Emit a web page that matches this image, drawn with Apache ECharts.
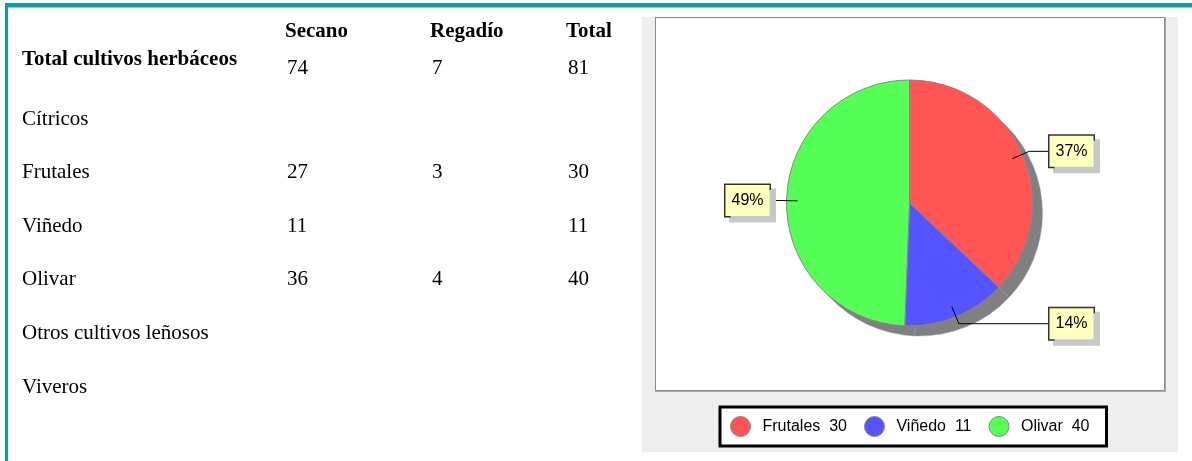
<!DOCTYPE html>
<html>
<head>
<meta charset="utf-8">
<script src="https://cdn.jsdelivr.net/npm/echarts@6/dist/echarts.min.js"></script>
<style>
html, body { margin: 0; padding: 0; background: #fff; }
#box { width: 1192px; height: 461px; }
</style>
</head>
<body>
<div id="box"></div>
<script>
// table data
const headers = ['Secano', 'Regadío', 'Total'];
const rowLabels = ['Total cultivos herbáceos', 'Cítricos', 'Frutales', 'Viñedo', 'Olivar', 'Otros cultivos leñosos', 'Viveros'];
const secano = [74, null, 27, 11, 36, null, null];
const regadio = [7, null, 3, null, 4, null, null];
const total = [81, null, 30, 11, 40, null, null];

// pie data
const pieNames = ['Frutales', 'Viñedo', 'Olivar'];
const pieValues = [30, 11, 40];
const pieColors = ['#ff5555', '#5555ff', '#55ff55'];

// layout
const CX = 909.5, CY = 203, R = 123;
const SERIF = '"Liberation Serif", "Times New Roman", serif';
const SANS = '"Liberation Sans", Arial, sans-serif';
const colX = [285, 430, 566];

function labelY(i) {
  return i === 0 ? 60 : 119 + (i - 1) * 53.6;
}
function valueY(i) {
  return i === 0 ? 68 : labelY(i);
}

var graphics = [
  { type: 'rect', shape: { x: 5, y: 3, width: 1187, height: 4.5 }, style: { fill: '#129d98' } },
  { type: 'rect', shape: { x: 5, y: 3, width: 3, height: 458 }, style: { fill: '#129d98' } },
  { type: 'rect', shape: { x: 642, y: 17, width: 536, height: 435 }, style: { fill: '#eeeeee' } },
  { type: 'rect', shape: { x: 655.5, y: 17.5, width: 509, height: 373 }, style: { fill: '#fff', stroke: '#888', lineWidth: 1 } },
  { type: 'line', shape: { x1: 1165.5, y1: 17, x2: 1165.5, y2: 392 }, style: { stroke: '#aaa', lineWidth: 1 } },
  { type: 'line', shape: { x1: 655, y1: 391.5, x2: 1166, y2: 391.5 }, style: { stroke: '#aaa', lineWidth: 1 } }
];

headers.forEach(function (h, j) {
  graphics.push({
    type: 'text',
    style: { text: h, x: colX[j], y: 32, font: 'bold 21px ' + SERIF, fill: '#000', textVerticalAlign: 'middle', verticalAlign: 'middle' }
  });
});

rowLabels.forEach(function (name, i) {
  graphics.push({
    type: 'text',
    style: { text: name, x: 22, y: labelY(i), font: (i === 0 ? 'bold ' : '') + '21px ' + SERIF, fill: '#000', textVerticalAlign: 'middle', verticalAlign: 'middle' }
  });
  [secano[i], regadio[i], total[i]].forEach(function (v, j) {
    if (v === null) return;
    graphics.push({
      type: 'text',
      style: { text: String(v), x: colX[j] + 2, y: valueY(i), font: '21px ' + SERIF, fill: '#000', textVerticalAlign: 'middle', verticalAlign: 'middle' }
    });
  });
});

// mid angle of each slice (clockwise from 12 o'clock)
const pieSum = pieValues.reduce(function (a, b) { return a + b; }, 0);
var midAngles = [];
var cum = 0;
pieValues.forEach(function (v) {
  midAngles.push((cum + v / 2) / pieSum * Math.PI * 2);
  cum += v;
});

var myChart = echarts.init(document.getElementById('box'));
let option = {
  animation: false,
  graphic: graphics,
  legend: {
    data: pieNames,
    left: 720,
    top: 407,
    orient: 'horizontal',
    icon: 'circle',
    itemWidth: 20,
    itemHeight: 20,
    itemGap: 17,
    padding: [9, 17, 9, 10],
    backgroundColor: '#fff',
    borderColor: '#000',
    borderWidth: 3,
    borderRadius: 0,
    itemStyle: { borderColor: '#888', borderWidth: 1 },
    textStyle: { fontFamily: SANS, fontSize: 16, color: '#000', padding: [0, 0, 0, 7] },
    formatter: function (name) {
      return name + '  ' + pieValues[pieNames.indexOf(name)];
    }
  },
  series: [
    {
      name: 'cultivos',
      type: 'pie',
      z: 3,
      center: [CX, CY],
      radius: R,
      startAngle: 90,
      clockwise: true,
      data: pieNames.map(function (n, i) {
        return { name: n, value: pieValues[i], itemStyle: { color: pieColors[i] } };
      }),
      itemStyle: { borderColor: '#888', borderWidth: 1 },
      emphasis: { disabled: true },
      label: { show: false },
      labelLine: { show: false }
    },
    {
      // transparent copy on top, only carries the labels and leader lines
      name: 'etiquetas',
      type: 'pie',
      z: 5,
      silent: true,
      center: [CX, CY],
      radius: R,
      startAngle: 90,
      clockwise: true,
      percentPrecision: 0,
      data: pieNames.map(function (n, i) {
        return { name: n, value: pieValues[i] };
      }),
      itemStyle: { color: 'rgba(0,0,0,0)', borderWidth: 0 },
      emphasis: { disabled: true },
      label: {
        show: true,
        position: 'outside',
        formatter: '{d}%',
        fontFamily: SANS,
        fontSize: 16,
        lineHeight: 17,
        color: '#000',
        backgroundColor: '#ffffc0',
        borderColor: '#333',
        borderWidth: 1.5,
        padding: [7, 6],
        shadowColor: '#c8c8c8',
        shadowBlur: 0,
        shadowOffsetX: 5,
        shadowOffsetY: 5
      },
      labelLine: { show: true, lineStyle: { color: '#000', width: 1 } },
      labelLayout: function (params) {
        const a = midAngles[params.dataIndex];
        const dx = Math.sin(a), dy = -Math.cos(a);
        const right = dx >= 0;
        const inner = [CX + dx * R * 0.91, CY + dy * R * 0.91];
        const bend = [CX + dx * R * 1.06, CY + dy * R * 1.06];
        const endX = right ? CX + 140 : CX - 140;
        return {
          x: endX,
          y: bend[1],
          align: right ? 'left' : 'right',
          verticalAlign: 'middle',
          labelLinePoints: [inner, bend, [endX, bend[1]]]
        };
      }
    },
    {
      name: 'sombra',
      type: 'pie',
      z: 1,
      silent: true,
      center: [CX + 10, CY + 10],
      radius: R,
      startAngle: 90,
      clockwise: true,
      data: pieNames.map(function (n, i) {
        return { name: n, value: pieValues[i] };
      }),
      itemStyle: { color: '#808080', borderColor: '#999', borderWidth: 0.5 },
      emphasis: { disabled: true },
      label: { show: false },
      labelLine: { show: false }
    }
  ]
};
myChart.setOption(option);
</script>
</body>
</html>
